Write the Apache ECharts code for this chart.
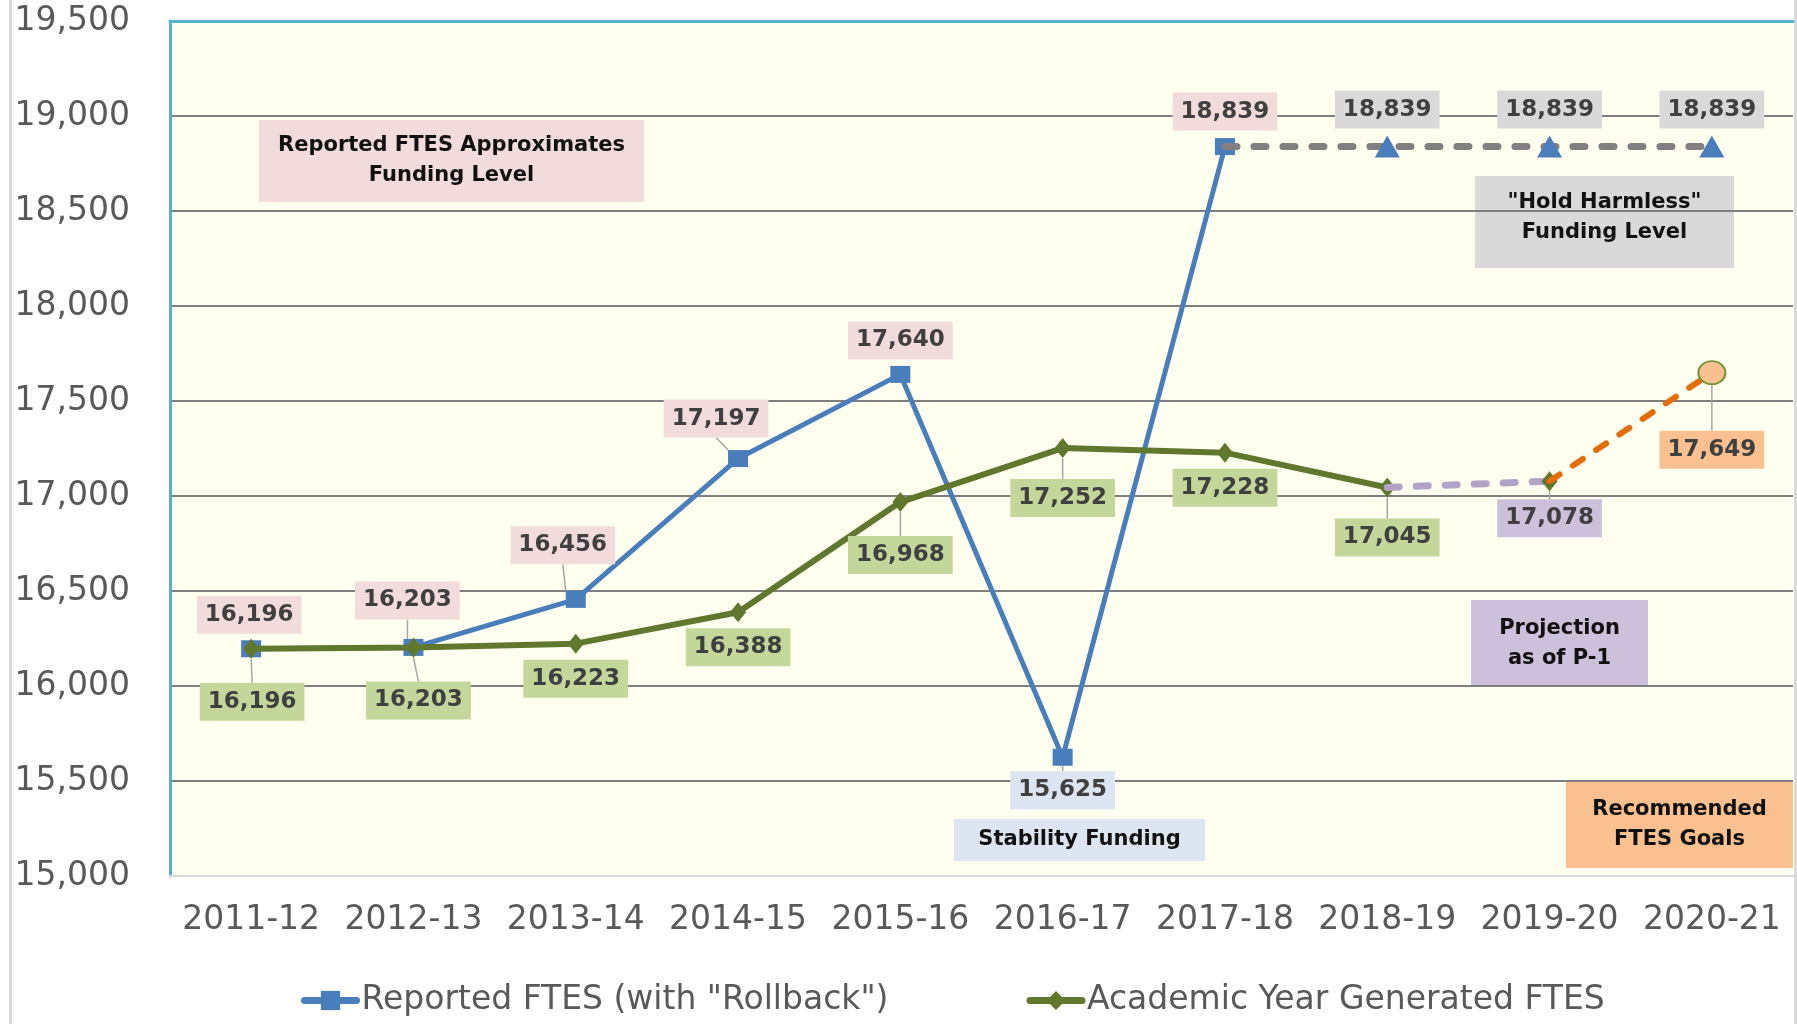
<!DOCTYPE html>
<html>
<head>
<meta charset="utf-8">
<script src="https://cdn.jsdelivr.net/npm/echarts@6/dist/echarts.min.js"></script>
<style>
  html,body{margin:0;padding:0;background:#fff;}
  #chart{width:1797px;height:1024px;}
</style>
</head>
<body>
<div id="chart"></div>
<script>
// category axis
const years = ["2011-12","2012-13","2013-14","2014-15","2015-16","2016-17","2017-18","2018-19","2019-20","2020-21"];

// series values
const reportedFtes = [16196,16203,16456,17197,17640,15625,18839,null,null,null];
const academicFtes = [16196,16203,16223,16388,16968,17252,17228,17045,null,null];
const holdHarmless = [null,null,null,null,null,null,18839,18839,18839,18839];
const projection = [null,null,null,null,null,null,null,17045,17078,null];
const ftesGoals = [null,null,null,null,null,null,null,null,17078,17649];

// y axis ticks
const yMin = 15000, yMax = 19500, yStep = 500;

// label placement (pixel offsets from the point) and leader line flags
const reportedOffsets = [[-2,-34],[-6,-47],[-13,-54],[-22,-40],[0,-34],[0,33],[0,-35]];
const reportedLeaders = [0,1,1,1,0,1,0];
const academicOffsets = [[1,53],[5,53],[0,35],[0,35],[0,53],[0,50],[0,35],[0,50]];
const academicLeaders = [1,1,0,0,1,1,0,1];

const LABEL_FONT = "DejaVu Sans";
const fmt = v => Number(v).toLocaleString("en-US");

function buildData(values, leaders, skipFirst){
    let first = values.findIndex(v => v !== null);
    return values.map((v, i) => {
        if (v === null) return null;
        const item = { value: v };
        if (skipFirst && i === first) {
            item.symbol = "none";
            item.label = { show: false };
        }
        if (leaders) {
            item.labelLine = { show: !!leaders[i] };
        }
        return item;
    });
}

function dataLabel(bg){
    return {
        show: true,
        position: "inside",
        formatter: p => fmt(p.value),
        fontFamily: LABEL_FONT,
        fontWeight: "bold",
        fontSize: 23,
        color: "#404040",
        backgroundColor: bg,
        padding: [8, 8, 7, 8]
    };
}

const leaderStyle = {
    show: true,
    lineStyle: { color: "#A6A6A6", width: 1.5 }
};

// annotation boxes
function note(x, y, w, h, fill, text, dy){
    return {
        type: "group",
        left: x,
        top: y,
        z: 50,
        children: [
            { type: "rect", shape: { x: 0, y: 0, width: w, height: h }, style: { fill: fill } },
            {
                type: "text",
                x: w / 2,
                y: h / 2 + (dy || 0),
                style: {
                    text: text,
                    fill: "#111",
                    font: "bold 21px 'DejaVu Sans'",
                    align: "center",
                    verticalAlign: "middle",
                    lineHeight: 30
                }
            }
        ]
    };
}

const reportedData = buildData(reportedFtes, reportedLeaders, false);
// the dip year gets its own label colour
reportedData[5].label = { backgroundColor: "#DCE6F2" };

const chart = echarts.init(document.getElementById("chart"), null, { renderer: "canvas" });

chart.setOption({
    backgroundColor: "#fff",
    animation: false,
    grid: {
        left: 170,
        right: 4,
        top: 21,
        bottom: 148,
        show: true,
        backgroundColor: "#FFFFF0",
        borderWidth: 0
    },
    legend: {
        data: [
            { name: 'Reported FTES (with "Rollback")', lineStyle: { width: 7, cap: "round" } },
            { name: "Academic Year Generated FTES", lineStyle: { width: 7, cap: "round" } }
        ],
        left: 296,
        top: 979,
        itemWidth: 52,
        itemHeight: 24,
        itemGap: 138,
        textStyle: { fontFamily: "DejaVu Sans", fontSize: 33, color: "#595959" }
    },
    xAxis: [
        {
            type: "category",
            data: years,
            boundaryGap: true,
            axisLine: { lineStyle: { color: "#D9D9D9", width: 2 } },
            axisTick: { show: false },
            axisLabel: { interval: 0, fontFamily: "DejaVu Sans", fontSize: 33, color: "#595959", margin: 28 }
        },
        {
            type: "category",
            data: years,
            position: "top",
            axisLine: { lineStyle: { color: "#55B1D0", width: 3 } },
            axisTick: { show: false },
            axisLabel: { show: false }
        }
    ],
    yAxis: {
        type: "value",
        min: yMin,
        max: yMax,
        interval: yStep,
        axisLine: { show: true, lineStyle: { color: "#55B1D0", width: 3 } },
        axisTick: { show: false },
        axisLabel: {
            fontFamily: "DejaVu Sans",
            fontSize: 33,
            color: "#595959",
            margin: 40,
            formatter: v => fmt(v)
        },
        splitLine: { lineStyle: { color: "#7F7F7F", width: 2 } }
    },
    series: [
        {
            name: 'Reported FTES (with "Rollback")',
            type: "line",
            data: reportedData,
            symbol: "rect",
            symbolSize: [20, 17],
            lineStyle: { color: "#4A7EBB", width: 5 },
            itemStyle: { color: "#4A7EBB" },
            label: dataLabel("#F2DCDB"),
            labelLayout: p => ({ dx: reportedOffsets[p.dataIndex][0], dy: reportedOffsets[p.dataIndex][1] }),
            labelLine: leaderStyle,
            z: 3
        },
        {
            name: "Hold Harmless",
            type: "line",
            data: buildData(holdHarmless, null, true),
            symbol: "triangle",
            symbolSize: [25, 22],
            lineStyle: { color: "#808080", width: 7, type: [12, 17], cap: "round" },
            itemStyle: { color: "#4A7EBB" },
            label: dataLabel("#D9D9D9"),
            labelLayout: { dy: -37 },
            z: 4
        },
        {
            name: "Academic Year Generated FTES",
            type: "line",
            data: buildData(academicFtes, academicLeaders, false),
            symbol: "diamond",
            symbolSize: [16, 20],
            lineStyle: { color: "#5F782E", width: 6 },
            itemStyle: { color: "#5F782E" },
            label: dataLabel("#C4D79B"),
            labelLayout: p => ({ dx: academicOffsets[p.dataIndex][0], dy: academicOffsets[p.dataIndex][1] }),
            labelLine: leaderStyle,
            z: 5
        },
        {
            name: "Projection",
            type: "line",
            data: buildData(projection, [0, 0, 0, 0, 0, 0, 0, 0, 1, 0], true),
            symbol: "diamond",
            symbolSize: [16, 20],
            lineStyle: { color: "#B3A2C7", width: 7, type: [12, 17], cap: "round" },
            itemStyle: { color: "#5F782E" },
            label: dataLabel("#CCC0DA"),
            labelLayout: { dy: 37 },
            labelLine: leaderStyle,
            z: 6
        },
        {
            name: "Recommended Goals",
            type: "line",
            data: buildData(ftesGoals, [0, 0, 0, 0, 0, 0, 0, 0, 0, 1], true),
            symbol: "circle",
            symbolSize: [27, 23],
            lineStyle: { color: "#E46C0A", width: 6, type: [12, 16], cap: "round" },
            itemStyle: { color: "#FAC090", borderColor: "#77933C", borderWidth: 2 },
            label: dataLabel("#FAC090"),
            labelLayout: { dy: 77 },
            labelLine: leaderStyle,
            z: 7
        }
    ],
    graphic: [
        { type: "rect", left: 9, top: 0, shape: { width: 3, height: 1024 }, style: { fill: "#D9D9D9" }, silent: true },
        { type: "rect", left: 1794, top: 0, shape: { width: 3, height: 1024 }, style: { fill: "#D9D9D9" }, silent: true },
        note(259, 120, 385, 82, "#F2DCDB", "Reported FTES Approximates\nFunding Level"),
        note(1475, 176, 259, 92, "#D9D9D9", "\"Hold Harmless\"\nFunding Level", -4),
        note(1471, 600, 177, 87, "#CCC0DA", "Projection\nas of P-1"),
        note(954, 819, 251, 42, "#DCE6F2", "Stability Funding"),
        note(1566, 782, 227, 86, "#FAC090", "Recommended\nFTES Goals")
    ]
});
</script>
</body>
</html>
